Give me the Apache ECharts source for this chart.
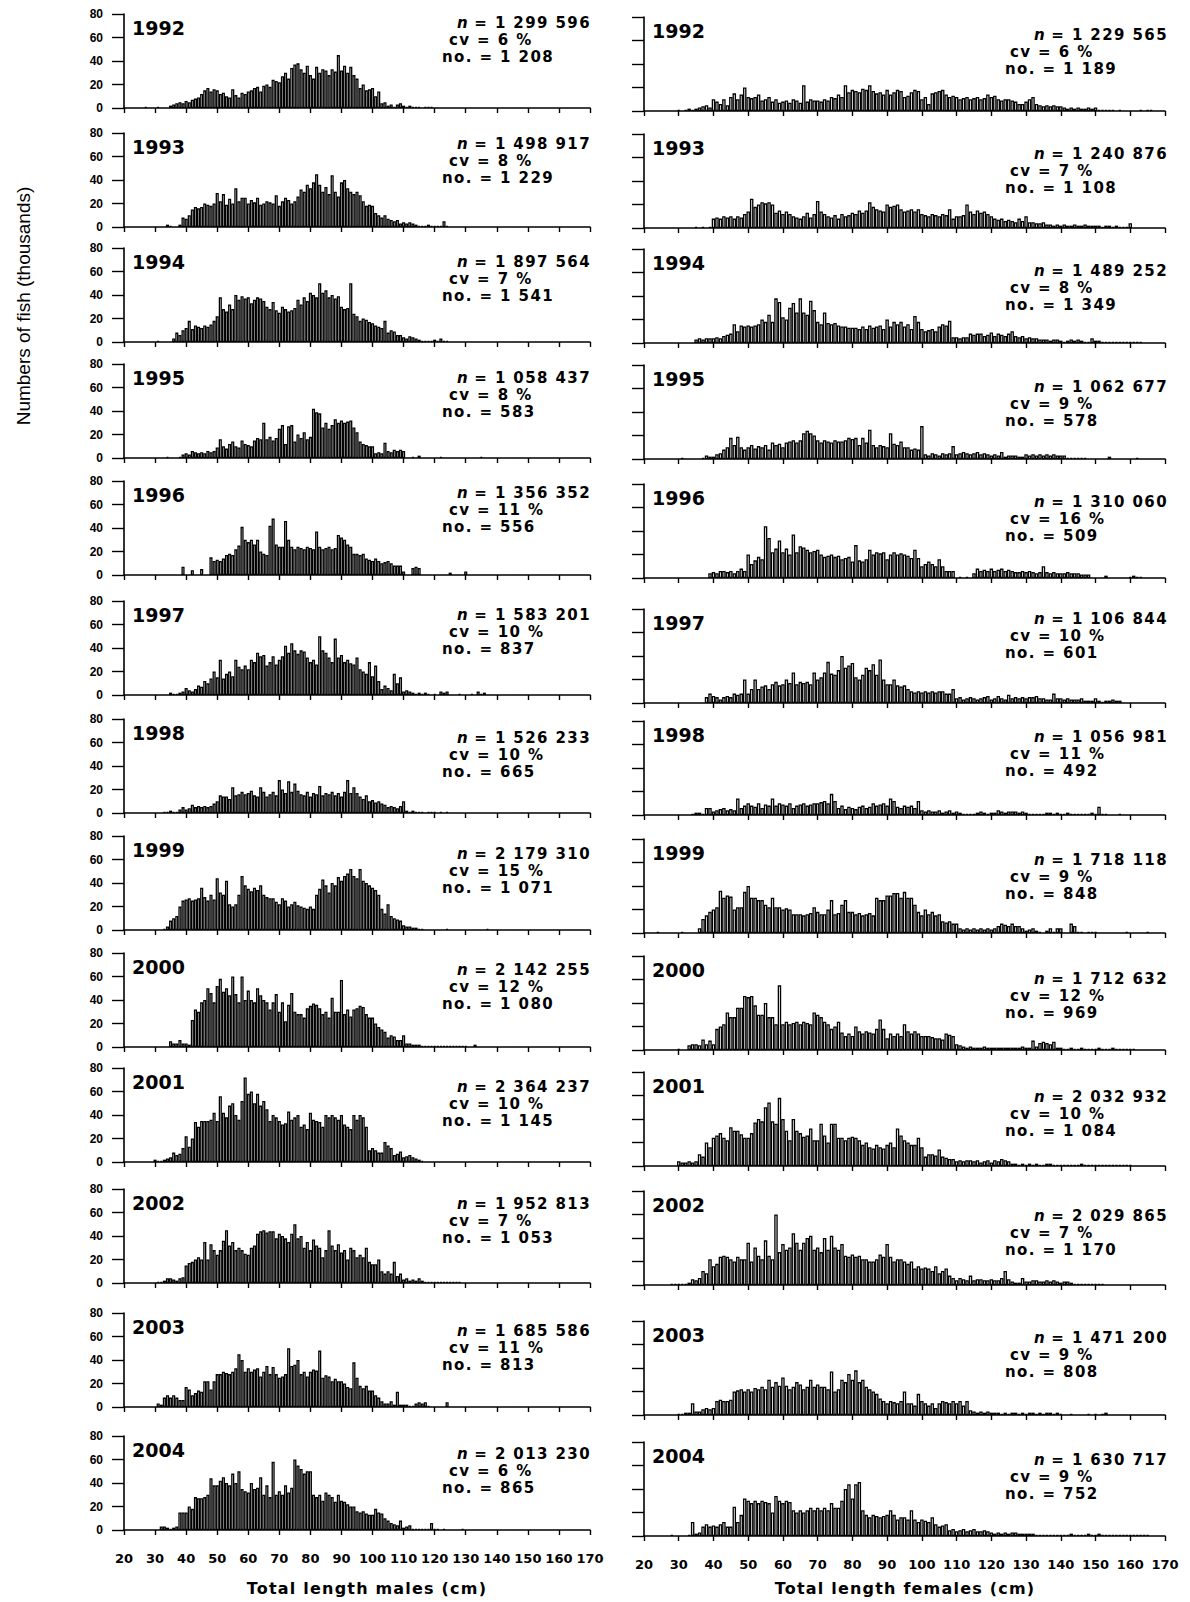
<!DOCTYPE html>
<html><head><meta charset="utf-8">
<script src="https://cdn.jsdelivr.net/npm/echarts@6/dist/echarts.min.js"></script>
<style>html,body{margin:0;padding:0;background:#fff}#c{width:1190px;height:1602px}</style>
</head><body><div id="c"></div><script>
// index 0 = 20 cm, one bin per cm
const YEARS = ['1992','1993','1994','1995','1996','1997','1998','1999','2000','2001','2002','2003','2004'];
const TICKS = [20,30,40,50,60,70,80,90,100,110,120,130,140,150,160,170];

const M1992 = [0,0,0,0,0,0,0,1,0,0, 0,1,0,0,0,2,3,4,5,4, 6,5,7,8,9,12,15,17,14,16, 15,12,13,10,9,16,11,9,13,12, 14,15,17,18,14,19,20,18,24,23, 22,27,30,25,34,37,38,33,30,36, 28,25,35,30,33,32,28,33,31,45, 32,36,30,35,28,25,17,20,15,16, 17,10,14,4,5,2,3,1,3,4, 2,1,2,1,1,1,0,1,1,1];
const M1993 = [0,0,0,0,0,0,0,0,0,0, 0,0,0,0,2,1,0,0,2,8, 7,10,15,17,16,17,20,19,18,20, 29,22,28,19,24,20,33,22,25,25, 20,23,21,25,19,20,22,21,20,27, 18,22,25,23,20,22,26,32,30,36, 33,38,45,36,30,34,28,44,30,26, 38,40,33,30,28,30,27,22,18,19, 18,12,10,8,10,7,6,5,6,3, 4,3,4,3,2,1,1,1,2,1, 1,1,1,5,1];
const M1994 = [0,0,0,0,0,0,0,0,0,0, 0,1,0,0,0,0,3,8,6,10, 12,18,11,14,13,12,14,13,15,18, 22,38,28,26,32,28,40,36,39,37, 38,33,36,38,37,35,30,28,34,27, 25,30,28,26,27,29,36,32,38,35, 42,40,38,50,42,44,38,40,37,39, 30,28,29,50,24,22,18,20,19,17, 16,14,13,12,18,8,10,9,6,6, 4,3,5,4,3,2,1,1,1,1, 2,1,3,1,1];
const M1995 = [0,0,0,0,0,0,0,0,0,0, 0,0,0,0,1,0,0,0,1,3, 4,3,6,5,4,5,4,6,5,6, 9,16,10,8,12,14,10,9,15,12, 11,10,15,17,16,30,16,18,15,17, 25,28,12,27,28,14,20,17,22,16, 18,42,39,38,26,30,25,28,33,30, 32,30,31,32,26,22,14,12,11,10, 10,4,5,4,13,6,5,7,6,7, 6,0,0,1,0,2,0,0,0,0, 0,0,1,0,0,0,0,0,0,0, 0,0,0,0,0,1];
const M1996 = [0,0,0,0,0,0,0,0,0,0, 0,0,0,0,0,0,0,0,0,7, 0,0,4,0,0,5,0,0,15,12, 13,12,14,17,18,17,22,25,41,30, 28,30,26,30,20,18,17,42,48,26, 24,24,46,30,24,22,24,23,22,24, 23,22,37,24,22,23,24,22,23,34, 32,30,26,24,18,18,17,18,14,13, 12,14,12,10,11,12,10,8,8,8, 3,0,0,6,7,6,0,0,0,0, 0,0,0,0,0,2,0,0,0,0, 3];
const M1997 = [0,0,0,0,0,0,0,0,0,0, 0,0,0,0,0,2,1,1,2,3, 6,4,3,5,8,7,12,10,14,20, 15,30,14,18,20,16,30,24,22,25, 22,30,28,36,33,34,25,28,33,26, 30,33,42,36,44,38,35,38,37,32, 28,30,26,50,38,36,32,28,48,32, 34,28,30,27,26,32,22,20,18,28, 16,25,12,5,8,6,4,18,10,15, 3,4,3,2,1,2,1,2,1,0, 1,0,3,2,3,0,0,0,1,0, 0,0,1,0,3,1,2];
const M1998 = [0,0,0,0,0,0,0,0,0,0, 0,0,0,1,1,2,1,1,3,5, 3,4,7,5,6,5,6,5,6,8, 10,15,14,14,12,22,15,16,18,16, 17,19,15,14,22,18,14,16,18,15, 28,20,17,27,18,25,19,16,15,18, 14,17,16,23,15,17,16,18,15,17, 14,18,28,17,22,17,14,12,15,10, 11,9,10,8,7,5,6,5,4,6, 10,2,1,2,1,1,1,0,1,1, 1,0,1,0,1];
const M1999 = [0,0,0,0,0,0,0,0,0,0, 0,0,0,1,3,8,10,12,20,25, 26,27,25,26,27,36,28,25,30,26, 44,32,30,42,22,20,22,30,46,38, 35,33,36,34,38,30,28,27,27,24, 22,27,25,20,22,24,21,20,19,18, 20,18,30,35,43,38,32,40,38,45, 42,46,48,52,46,44,52,42,40,38, 36,34,30,18,14,22,12,10,9,8, 4,3,3,2,2,1,1,0,0,0, 0,0,0,0,1,0,0,0,0,0, 0,0,0,0,0,0,0,1];
const M2000 = [0,0,0,0,0,0,0,0,0,0, 0,0,0,0,0,5,3,3,6,3, 3,2,23,32,30,38,40,50,46,38, 52,58,47,50,44,60,45,38,60,40, 48,40,38,50,44,40,38,32,38,45, 30,38,22,36,46,30,28,28,25,33, 35,37,36,33,28,30,25,42,30,30, 57,28,32,26,32,33,35,34,28,25, 25,20,17,15,13,8,10,9,6,6, 10,3,3,2,2,2,1,1,1,1, 1,1,1,1,1,1,1,1,1,1, 1,0,0,2];
const M2001 = [0,0,0,0,0,0,0,0,0,0, 2,1,1,2,3,4,8,6,7,12, 22,13,20,34,30,35,35,35,36,42, 35,56,42,38,48,50,40,36,52,72, 58,60,50,58,48,52,45,35,40,38, 35,32,33,43,36,38,40,30,32,28, 42,36,35,34,30,40,38,40,38,36, 40,32,30,28,40,36,40,38,30,10, 12,10,8,8,17,14,12,6,7,9, 4,5,6,4,3,2,1];
const M2002 = [0,0,0,0,0,0,0,0,0,0, 0,1,1,2,4,4,3,2,4,5, 15,17,18,20,22,20,35,20,33,28, 24,28,36,45,32,35,28,30,28,25, 24,30,32,42,44,45,43,44,44,38, 42,40,38,35,42,50,38,40,30,35, 28,37,32,30,22,28,45,32,28,33, 26,28,20,30,28,22,24,22,30,18, 16,16,20,10,8,10,8,18,6,8, 3,4,2,3,2,4,2,1,1,1, 1,1,1,1,1,1,1,1,1];
const M2003 = [0,0,0,0,0,0,0,0,0,0, 0,3,2,8,10,8,10,8,6,6, 17,15,10,12,14,13,22,22,15,22, 28,28,30,29,28,30,33,45,40,30, 33,30,32,33,26,30,35,28,34,28, 25,26,28,50,35,36,40,28,30,26, 30,32,31,48,25,27,26,22,24,22, 22,20,17,16,38,25,18,16,18,14, 14,10,8,5,3,3,5,2,13,2, 2,2,1,1,3,4,3,4,1,0, 0,0,0,0,4];
const M2004 = [0,0,0,0,0,0,0,0,0,0, 0,0,3,3,2,1,2,3,15,15, 15,20,18,28,27,27,28,30,44,38, 38,42,45,40,38,48,40,50,35,33, 32,40,35,36,45,30,38,28,58,30, 33,30,38,32,36,60,55,52,48,50, 50,30,28,30,25,32,30,28,24,30, 25,24,22,20,20,16,15,16,14,13, 13,18,15,14,10,8,6,5,4,8, 2,3,4,1,1,1,1,1,1,6, 1,1,0,1,0,0,0,0,0,1];

const F1992 = [0,0,0,0,0,0,0,0,0,0, 1,0,1,2,1,2,3,4,5,3, 10,8,6,10,5,12,15,10,14,20, 12,11,12,14,9,10,12,8,10,7, 8,9,7,10,9,7,22,8,10,9, 9,8,10,9,12,11,14,12,22,16, 18,17,16,19,18,22,17,15,16,14, 18,14,16,18,17,12,13,16,18,17, 10,12,6,15,16,17,18,14,12,13, 12,10,11,12,10,11,12,10,11,14, 12,13,10,9,10,10,9,8,6,6, 8,10,12,6,5,4,5,4,5,4, 4,3,2,3,2,3,2,2,3,2, 3,1,1,1,1,1,0,1,0,0, 0,0,0,1,0,1,1];
const F1993 = [0,0,0,0,0,0,0,0,0,0, 0,0,0,0,0,1,0,1,0,1, 8,9,8,10,9,10,8,10,9,12, 14,25,18,20,22,21,22,20,13,15, 12,14,12,10,9,8,10,13,9,12, 23,14,12,10,9,11,8,12,10,11, 13,12,15,13,15,22,18,16,15,14, 20,18,19,20,16,14,15,16,14,16, 12,11,10,12,11,10,12,11,16,8, 10,10,11,20,14,12,15,13,14,12, 10,8,7,8,6,7,6,5,8,6, 10,5,5,4,4,5,3,3,2,3, 2,3,2,2,3,2,2,3,2,2, 2,2,1,2,2,1,2,1,1,1, 4];
const F1994 = [0,0,0,0,0,0,0,0,0,0, 0,0,0,0,0,3,4,3,4,4, 4,5,4,6,7,8,16,10,15,14, 15,14,15,16,20,18,24,18,38,35, 22,20,30,34,26,38,26,24,36,28, 18,16,26,17,16,17,15,14,14,13, 13,13,12,14,12,15,13,14,15,12, 20,14,18,16,18,14,16,12,23,18, 12,10,11,12,10,14,16,15,19,5, 5,4,5,5,8,7,8,8,6,7, 9,6,8,7,6,8,10,6,5,6, 4,5,4,4,3,3,3,2,3,3, 2,1,2,3,2,3,2,1,1,4, 2,2,1,1,1,1,1,1,1,1, 1,1,1,1];
const F1995 = [0,0,0,0,0,0,0,0,0,0, 0,1,0,0,0,0,0,1,3,2, 2,4,5,8,10,18,12,19,10,8, 10,12,9,11,10,12,8,14,12,13, 10,14,15,16,14,16,22,24,22,20, 16,14,16,15,14,16,15,15,16,18, 17,18,12,18,14,25,12,10,12,11, 10,22,13,12,15,10,10,8,9,8, 28,4,3,5,4,3,5,4,5,11, 4,5,6,5,4,5,6,4,5,4, 3,4,3,6,2,3,3,3,2,2, 4,3,4,3,4,3,4,3,4,3, 3,3,1,1,1,1,1,1,0,0, 0,0,0,0,2,0,0,0,0,0, 0,0,1];
const F1996 = [0,0,0,0,0,0,0,0,0,0, 0,0,0,0,0,0,0,0,0,4, 5,4,6,6,5,6,4,6,8,6, 20,12,15,18,16,44,34,22,25,32, 22,25,20,37,22,27,26,24,22,23, 24,20,18,19,20,18,19,16,17,18, 14,28,15,14,16,24,20,22,21,22, 16,20,22,20,21,20,19,17,24,17, 10,12,14,12,10,16,10,6,6,6, 0,1,0,1,0,4,8,6,7,6, 8,6,7,8,6,7,6,5,5,6, 5,6,5,4,5,10,5,4,5,4, 4,4,5,4,4,4,3,3,3,0, 0,0,0,2,0,0,0,0,0,0, 1,2,1,1];
const F1997 = [0,0,0,0,0,0,0,0,0,0, 0,0,0,0,0,0,0,0,5,8, 6,5,3,5,6,5,8,7,8,20, 8,12,20,12,14,15,12,16,18,15, 16,20,17,26,16,18,17,18,16,26, 20,22,26,35,25,24,28,40,30,32, 34,22,20,24,30,28,33,24,37,20, 16,16,20,15,14,15,12,10,9,10, 9,10,9,10,9,10,10,8,8,12, 4,5,3,4,5,4,3,4,5,6, 3,4,6,4,3,7,4,5,4,5, 4,5,5,6,4,4,3,3,8,4, 4,3,4,3,3,3,4,2,2,2, 4,2,1,2,2,3,2,2];
const F1998 = [0,0,0,0,0,0,0,0,0,0, 0,0,0,0,1,2,2,1,6,6, 3,4,5,6,4,5,4,14,6,8, 10,8,7,10,6,9,8,14,8,10, 9,8,10,6,8,9,10,8,9,10, 10,11,12,10,18,12,6,8,5,7, 6,5,7,8,6,7,10,8,9,10, 8,14,12,7,6,8,7,8,6,12, 4,3,4,3,3,4,2,3,4,2, 3,2,1,1,1,1,2,3,2,1, 2,2,4,3,2,3,3,3,2,3, 2,1,1,1,1,1,2,2,1,2, 1,1,2,1,1,1,1,1,1,2, 1,7,1,1,0,0,0,1];
const F1999 = [0,0,0,0,1,0,0,0,0,0, 0,1,0,0,0,0,4,12,15,18, 20,22,36,30,32,31,20,22,22,35, 40,30,30,28,28,24,22,30,22,22, 20,21,20,16,16,16,15,16,17,22, 18,16,16,20,28,16,17,24,28,18, 18,16,17,15,16,17,15,30,28,28, 32,32,34,34,30,35,30,30,24,18, 15,20,16,18,15,16,10,9,10,8, 8,4,3,4,3,4,3,4,3,4, 3,4,6,8,7,6,8,6,6,4, 2,3,4,2,1,0,2,4,1,4, 4,0,0,8,6,1,1,0,1,1, 1,0,0,0,0,0,0,0,0,1, 0,0,0,0,0,1];
const F2000 = [0,0,0,0,0,0,0,0,0,0, 1,0,0,4,5,5,4,9,5,8, 5,18,20,22,32,28,28,36,36,46, 45,46,38,30,30,40,28,28,22,55, 22,24,22,23,24,22,24,23,22,32, 30,28,24,22,18,20,24,15,12,14, 12,20,16,14,16,15,14,18,26,18, 10,14,12,14,12,22,16,14,16,14, 12,12,12,11,10,10,9,14,13,12, 5,4,3,2,3,2,2,2,3,2, 2,2,2,2,2,2,2,2,2,3, 2,2,8,3,6,7,6,5,7,2, 2,1,1,2,1,1,2,1,1,1, 1,2,1,1,1,2,1,1,1,1, 1,1];
const F2001 = [0,0,0,0,0,0,0,0,0,0, 4,3,3,4,3,4,10,8,20,16, 24,26,28,24,22,33,30,30,27,24, 24,28,37,40,38,50,54,38,36,58, 40,30,22,40,30,28,25,26,32,22, 22,36,26,20,36,36,24,24,22,24, 25,24,22,18,20,16,15,18,16,15, 18,20,16,32,26,22,20,18,18,24, 16,8,10,10,9,14,8,7,6,6, 4,5,4,5,5,4,5,3,4,5, 3,5,4,6,5,4,2,2,1,2, 1,2,1,2,1,1,2,2,1,1, 1,1,1,1,1,1,2,1,1,1, 1,1,1,1,1,1,1,1,1,1, 1];
const F2002 = [0,0,0,0,0,0,0,0,1,1, 1,1,1,2,5,4,6,12,10,22, 16,18,24,25,24,22,20,24,22,22, 36,20,32,25,22,38,25,22,60,28, 35,30,32,44,36,30,36,40,42,30, 32,28,40,30,42,32,30,35,25,24, 26,24,25,22,22,20,20,22,26,24, 35,24,20,22,22,20,18,20,14,16, 14,15,14,12,16,10,12,14,8,6, 4,6,5,4,8,4,5,5,4,4, 5,4,4,6,12,5,3,2,2,6, 3,3,4,4,3,3,4,3,4,3, 2,3,3,2,1,1,1,1,1,1, 1,1,1];
const F2003 = [0,0,0,0,0,0,0,0,0,0, 1,1,2,2,10,3,3,5,6,5, 6,12,13,12,12,13,20,21,22,20, 22,20,23,22,24,22,30,24,28,25, 32,25,22,24,28,26,22,24,30,24, 26,24,24,22,37,20,22,30,28,35, 30,38,28,30,24,22,20,18,14,12, 10,12,11,10,12,20,10,10,8,18, 12,10,8,10,6,10,12,11,10,12, 10,12,8,12,4,3,2,3,2,3, 2,2,2,1,2,1,2,2,1,2, 1,2,2,1,2,1,2,2,1,2, 1,0,0,1,0,0,0,0,1,0, 1,0,1,2];
const F2004 = [0,0,0,0,0,0,0,0,1,0, 0,0,0,1,12,2,3,8,10,8, 9,8,10,12,8,8,25,12,18,32, 30,28,30,28,30,29,28,20,34,30, 28,30,29,22,20,22,20,22,24,22, 24,22,24,22,28,24,24,30,40,44, 32,44,46,22,18,16,18,17,16,17, 18,22,18,14,16,16,14,22,14,12, 14,13,12,16,10,8,9,10,5,6, 4,5,6,4,5,6,4,4,5,4, 3,2,3,2,3,2,3,3,2,2, 2,2,2,1,1,1,1,1,1,1, 1,1,1,2,1,1,1,1,2,1, 1,2,1,1,1,1,1,1,1,1, 1,1,1,1,1,1];

const MALES = [M1992,M1993,M1994,M1995,M1996,M1997,M1998,M1999,M2000,M2001,M2002,M2003,M2004];
const FEMALES = [F1992,F1993,F1994,F1995,F1996,F1997,F1998,F1999,F2000,F2001,F2002,F2003,F2004];

const N_M = ['1 299 596','1 498 917','1 897 564','1 058 437','1 356 352','1 583 201','1 526 233','2 179 310','2 142 255','2 364 237','1 952 813','1 685 586','2 013 230'];
const CV_M = ['6','8','7','8','11','10','10','15','12','10','7','11','6'];
const NO_M = ['1 208','1 229','1 541','583','556','837','665','1 071','1 080','1 145','1 053','813','865'];
const N_F = ['1 229 565','1 240 876','1 489 252','1 062 677','1 310 060','1 106 844','1 056 981','1 718 118','1 712 632','2 032 932','2 029 865','1 471 200','1 630 717'];
const CV_F = ['6','7','8','9','16','10','11','9','12','10','7','9','9'];
const NO_F = ['1 189','1 108','1 349','578','509','601','492','848','969','1 084','1 170','808','752'];

// ---- layout (pixels) ----
const COLS = [{x0:124, x1:590}, {x0:644, x1:1165}];
const BASE_L = [108,227,342,458,575,695,813,930,1047,1162,1283,1407,1530];
const BASE_DR = [3,1,1,1,3,8,2,3,3,4,2,8,6];
const PH = 94;
const STAT_DY = [[-5,-3,0,0,-2,0,5,4,3,5,1,4,4],[4,6,8,8,4,-4,2,7,9,11,11,3,4]];
const STAT_X = [[457,449,442],[1034,1010,1005]];
const LINE = 17;

const chart = echarts.init(document.getElementById('c'), null, {renderer:'svg'});
const grid=[], xAxis=[], yAxis=[], series=[], graphic=[];
const BOLD = 'DejaVu Sans';
let k = 0;
for (let c = 0; c < 2; c++) {
  const col = COLS[c];
  const w = col.x1 - col.x0;
  const bw = w / (TICKS[TICKS.length-1] - TICKS[0]);
  for (let r = 0; r < YEARS.length; r++) {
    const base = BASE_L[r] + (c ? BASE_DR[r] : 0);
    const top = base - PH;
    grid.push({left: col.x0, top: top, width: w, height: PH, containLabel:false});
    const bottom = r === YEARS.length - 1;
    xAxis.push({type:'value', gridIndex:k, min:TICKS[0], max:TICKS[TICKS.length-1], interval:10,
      axisLine:{show:true, onZero:false, lineStyle:{color:'#000', width:1.6}},
      axisTick:{show:true, length:5, lineStyle:{color:'#000', width:1.4}},
      axisLabel:{show:bottom, color:'#000', fontFamily:BOLD, fontWeight:'bold', fontSize:13, margin:22},
      splitLine:{show:false}});
    yAxis.push({type:'value', gridIndex:k, min:0, max:80, interval:20,
      axisLine:{show:true, lineStyle:{color:'#000', width:1.6}},
      axisTick:{show:true, length:12, lineStyle:{color:'#000', width:1.4}},
      axisLabel:{show:c===0, color:'#000', fontFamily:'Liberation Sans', fontWeight:'bold', fontSize:12, margin:21},
      splitLine:{show:false}});
    const arr = c === 0 ? MALES[r] : FEMALES[r];
    const data = [];
    arr.forEach((v,i) => { if (v > 0) data.push([TICKS[0] + i, v]); });
    series.push({type:'bar', xAxisIndex:k, yAxisIndex:k, data:data, barWidth:bw, silent:true,
      itemStyle:{color:'#f2f2f2', borderColor:'#000', borderWidth:1.3}});
    graphic.push({type:'text', left: col.x0 + 8, top: top + 4,
      style:{text: YEARS[r], font:'bold 19px "DejaVu Sans"', fill:'#000'}});
    const sx = STAT_X[c], dy = STAT_DY[c][r];
    const y0 = top + 6 + dy;
    const N = c ? N_F : N_M, CV = c ? CV_F : CV_M, NO = c ? NO_F : NO_M;
    graphic.push({type:'text', left: sx[0], top: y0,
      style:{text: '{i|n} = ' + N[r], font:'bold 15px "DejaVu Sans"', fill:'#000',
        rich:{i:{fontStyle:'italic', fontWeight:'bold', fontSize:15, fontFamily:'DejaVu Sans'}}}});
    graphic.push({type:'text', left: sx[1], top: y0 + LINE,
      style:{text: 'cv = ' + CV[r] + ' %', font:'bold 15px "DejaVu Sans"', fill:'#000'}});
    graphic.push({type:'text', left: sx[2], top: y0 + 2 * LINE,
      style:{text: 'no. = ' + NO[r], font:'bold 15px "DejaVu Sans"', fill:'#000'}});
    k++;
  }
}
graphic.push({type:'text', x: 367, y: 1588, style:{text:'Total length males (cm)', font:'bold 16px "DejaVu Sans"', fill:'#000', align:'center', verticalAlign:'middle'}});
graphic.push({type:'text', x: 905, y: 1588, style:{text:'Total length females (cm)', font:'bold 16px "DejaVu Sans"', fill:'#000', align:'center', verticalAlign:'middle'}});
graphic.push({type:'text', x: 23, y: 306, rotation: Math.PI/2,
  style:{text:'Numbers of fish (thousands)', font:'19px "Liberation Sans"', fill:'#000', align:'center', verticalAlign:'middle'}});

chart.setOption({animation:false, backgroundColor:'#fff', grid, xAxis, yAxis, series, graphic});

// widen the spacing of the bold stats text, as in the printed figure
function spaceText() {
  document.querySelectorAll('#c svg text').forEach(el => {
    const fs = parseFloat(getComputedStyle(el).fontSize);
    if (fs === 15) el.style.letterSpacing = '1.4px';
    else if (fs === 16) el.style.letterSpacing = '1.2px';
  });
}
spaceText();
chart.on('finished', spaceText);
</script></body></html>
